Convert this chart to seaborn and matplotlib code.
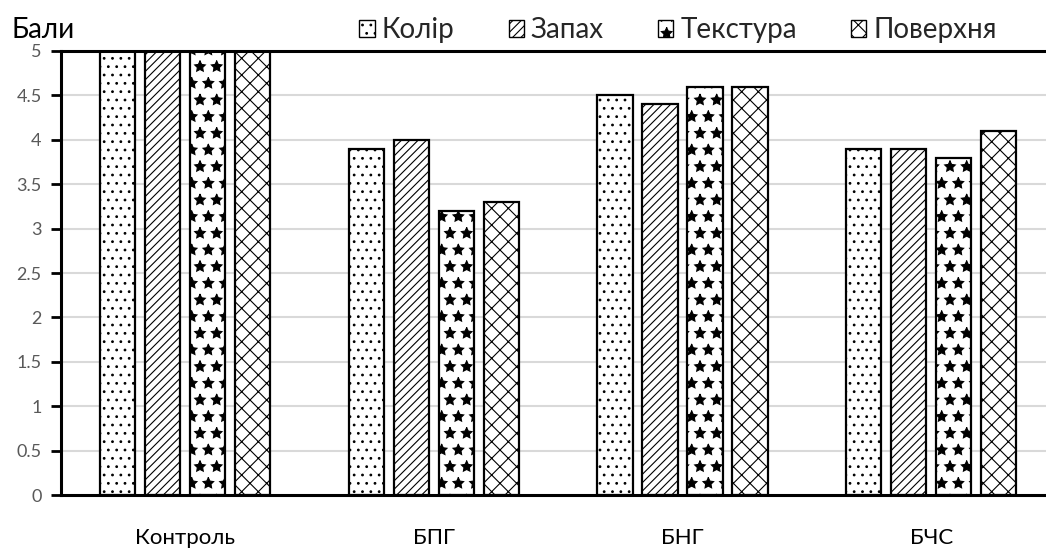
import matplotlib
matplotlib.use("Agg")
import matplotlib.pyplot as plt
from matplotlib.patches import Patch
import seaborn as sns
import pandas as pd

categories = ["Контроль", "БПГ", "БНГ", "БЧС"]
series = ["Колір", "Запах", "Текстура", "Поверхня"]
kolir = [5.0, 3.9, 4.5, 3.9]
zapakh = [5.0, 4.0, 4.4, 3.9]
tekstura = [5.0, 3.2, 4.6, 3.8]
poverkhnia = [5.0, 3.3, 4.6, 4.1]
y_ticks = [0, 0.5, 1, 1.5, 2, 2.5, 3, 3.5, 4, 4.5, 5]
y_tick_labels = ["0", "0.5", "1", "1.5", "2", "2.5", "3", "3.5", "4", "4.5", "5"]
y_title = "Бали"

sns.set_theme(style="white")
plt.rcParams["font.family"] = ["Lato", "DejaVu Sans"]
plt.rcParams["hatch.linewidth"] = 0.8

values = {"Колір": kolir, "Запах": zapakh, "Текстура": tekstura, "Поверхня": poverkhnia}
rows = []
for s in series:
    for c, v in zip(categories, values[s]):
        rows.append({"cat": c, "series": s, "val": v})
df = pd.DataFrame(rows)

styles = {
    "Колір": dict(face="white", hatch=".."),
    "Запах": dict(face="white", hatch="////"),
    "Текстура": dict(face="white", hatch="*"),
    "Поверхня": dict(face="white", hatch="xx"),
}

fig = plt.figure(figsize=(10.46, 5.5), dpi=100)
ax = fig.add_axes([61 / 1046, 55 / 550, 1 - 61 / 1046, 444 / 550])

sns.barplot(data=df, x="cat", y="val", hue="series", order=categories,
            hue_order=series, width=0.724, gap=0.22, ax=ax, legend=False,
            palette=["white"] * 4, errorbar=None, saturation=1)

for s, cont in zip(series, ax.containers):
    st = styles[s]
    for bar in cont:
        bar.set_facecolor(st["face"])
        bar.set_edgecolor("black")
        bar.set_hatch(st["hatch"])
        bar.set_linewidth(1.6)

ax.set_xlim(-0.5, 3.462)
ax.set_ylim(0, 5)
ax.set_yticks(y_ticks)
ax.set_yticklabels(y_tick_labels)
ax.set_xlabel("")
ax.set_ylabel("")
for yv in y_ticks[1:-1]:
    ax.axhline(yv, color="#d9d9d9", lw=1.5, zorder=0)
ax.set_axisbelow(True)

for side in ["left", "bottom", "top"]:
    ax.spines[side].set_visible(True)
    ax.spines[side].set_color("black")
    ax.spines[side].set_linewidth(2.2)
ax.spines["right"].set_visible(False)

ax.tick_params(axis="y", direction="out", length=7, width=2, color="black",
               labelcolor="#595959", labelsize=13, pad=7, left=True)
ax.tick_params(axis="x", length=0, labelsize=16, labelcolor="black", pad=24)

fig.text(12 / 1046, 1 - 30 / 550, y_title, fontsize=20, va="center", ha="left", color="black")

handles = [Patch(facecolor=styles[s]["face"], edgecolor="black", hatch=styles[s]["hatch"], lw=1.0)
           for s in series]
fig.legend(handles, series, loc="center", bbox_to_anchor=(678 / 1046, 1 - 30 / 550),
           ncol=4, frameon=False, fontsize=20, handlelength=0.55, handleheight=0.55,
           handletextpad=0.25, columnspacing=1.95, borderpad=0)

fig.savefig("out.png", dpi=100)
